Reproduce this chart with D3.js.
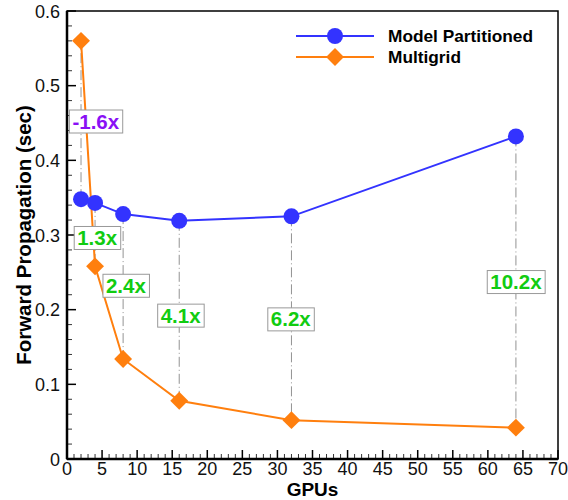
<!DOCTYPE html>
<html lang="en">
<head>
  <meta charset="UTF-8">
  <title>Forward Propagation vs GPUs</title>
  <script src='https://d3js.org/d3.v7.min.js'></script>
  <style>
    body { margin: 0; background: #fff; }
    text { font-family: "Liberation Sans", Arial, Helvetica, sans-serif; }
  </style>
</head>
<body>
</body>
<script>
  const width = 568, height = 500;
  const margin = {top: 11, right: 10, bottom: 41, left: 67};

  // data
  const gpus = [2, 4, 8, 16, 32, 64];
  const modelPartitioned = [0.348, 0.343, 0.328, 0.319, 0.325, 0.432];
  const multigrid = [0.560, 0.258, 0.134, 0.078, 0.052, 0.042];
  const speedupLabels = ['-1.6x', '1.3x', '2.4x', '4.1x', '6.2x', '10.2x'];
  const labelY = [0.452, 0.296, 0.232, 0.192, 0.187, 0.237];
  const labelX = [4.1, 4.3, 8.4, 16.2, 31.9, 64];
  const xTicks = d3.range(0, 71, 5);
  const yTicks = [0, 0.1, 0.2, 0.3, 0.4, 0.5, 0.6];

  const svg = d3.select('body').append('svg').attr('width', width).attr('height', height);

  const x = d3.scaleLinear().domain([0, 70]).range([margin.left, width - margin.right]);
  const y = d3.scaleLinear().domain([0, 0.6]).range([height - margin.bottom, margin.top]);

  const blue = '#3333ff', orange = '#ff7f0e';

  // frame
  svg.append('rect')
    .attr('x', x(0)).attr('y', y(0.6))
    .attr('width', x(70) - x(0)).attr('height', y(0) - y(0.6))
    .attr('fill', 'none').attr('stroke', '#000').attr('stroke-width', 1.5);

  // ticks (inward)
  const ticks = svg.append('g');
  d3.range(0, 71, 1).forEach(v => {
    const major = v % 5 === 0;
    ticks.append('line')
      .attr('x1', x(v)).attr('x2', x(v))
      .attr('y1', y(0)).attr('y2', y(0) - (major ? 9 : 5))
      .attr('stroke', '#000').attr('stroke-width', major ? 1.5 : 0.8);
  });
  d3.range(0, 31, 1).forEach(i => {
    const v = i * 0.02;
    const major = i % 5 === 0;
    ticks.append('line')
      .attr('x1', x(0)).attr('x2', x(0) + (major ? 9 : 5))
      .attr('y1', y(v)).attr('y2', y(v))
      .attr('stroke', '#000').attr('stroke-width', major ? 1.5 : 0.8);
  });

  svg.append('line').attr('x1', x(0)).attr('x2', x(70)).attr('y1', y(0)).attr('y2', y(0))
    .attr('stroke', '#000').attr('stroke-width', 2.5);
  svg.append('line').attr('x1', x(0)).attr('x2', x(0)).attr('y1', y(0)).attr('y2', y(0.6))
    .attr('stroke', '#000').attr('stroke-width', 2.5);

  // tick labels
  svg.append('g').selectAll('text').data(xTicks).join('text')
    .attr('x', d => x(d)).attr('y', y(0) + 15.5)
    .attr('text-anchor', 'middle').attr('font-size', 18).attr('fill', '#111')
    .text(d => d);
  svg.append('g').selectAll('text').data(yTicks).join('text')
    .attr('x', x(0) - 7).attr('y', d => y(d) + 6.5)
    .attr('text-anchor', 'end').attr('font-size', 18).attr('fill', '#111')
    .text(d => d === 0 ? '0' : d.toFixed(1));

  // axis titles
  svg.append('text')
    .attr('x', (x(0) + x(70)) / 2).attr('y', 495.8)
    .attr('text-anchor', 'middle').attr('font-size', 19).attr('font-weight', 'bold')
    .text('GPUs');
  svg.append('text')
    .attr('transform', `translate(31,${(y(0) + y(0.6)) / 2}) rotate(-90)`)
    .attr('text-anchor', 'middle').attr('font-size', 20.5).attr('font-weight', 'bold')
    .text('Forward Propagation (sec)');

  // dash-dot drop lines
  svg.append('g').selectAll('line').data(gpus).join('line')
    .attr('x1', d => x(d)).attr('x2', d => x(d))
    .attr('y1', (d, i) => y(modelPartitioned[i])).attr('y2', (d, i) => y(multigrid[i]))
    .attr('stroke', '#777').attr('stroke-width', 0.8)
    .attr('stroke-dasharray', '10,3,1,3');

  // series
  const line = d3.line().x(d => x(d[0])).y(d => y(d[1]));
  const mpPts = gpus.map((g, i) => [g, modelPartitioned[i]]);
  const mgPts = gpus.map((g, i) => [g, multigrid[i]]);

  svg.append('path').datum(mgPts).attr('d', line)
    .attr('fill', 'none').attr('stroke', orange).attr('stroke-width', 2);
  svg.append('path').datum(mpPts).attr('d', line)
    .attr('fill', 'none').attr('stroke', blue).attr('stroke-width', 2);

  const diamond = d3.symbol().type(d3.symbolSquare).size(160);
  svg.append('g').selectAll('path').data(mgPts).join('path')
    .attr('d', diamond)
    .attr('transform', d => `translate(${x(d[0])},${y(d[1])}) rotate(45)`)
    .attr('fill', orange);
  svg.append('g').selectAll('circle').data(mpPts).join('circle')
    .attr('cx', d => x(d[0])).attr('cy', d => y(d[1])).attr('r', 8)
    .attr('fill', blue);

  // speedup labels
  const lab = svg.append('g').selectAll('g').data(speedupLabels).join('g')
    .attr('transform', (d, i) => `translate(${x(labelX[i])},${y(labelY[i])})`);
  lab.append('text')
    .attr('text-anchor', 'middle').attr('y', 7)
    .attr('font-size', 20.5).attr('font-weight', 'bold')
    .attr('fill', d => d.startsWith('-') ? '#8a10f5' : '#11cc11')
    .text(d => d);
  lab.each(function () {
    const g = d3.select(this);
    const b = g.select('text').node().getBBox();
    g.insert('rect', 'text')
      .attr('x', b.x - 3).attr('y', -11.5)
      .attr('width', b.width + 6).attr('height', 23)
      .attr('fill', '#fff').attr('stroke', '#999').attr('stroke-width', 1);
  });

  // legend
  const legend = svg.append('g').attr('transform', 'translate(296,36)');
  const items = [
    {name: 'Model Partitioned', color: blue, type: 'circle'},
    {name: 'Multigrid', color: orange, type: 'diamond'}
  ];
  items.forEach((it, i) => {
    const g = legend.append('g').attr('transform', `translate(0,${i * 21})`);
    g.append('line').attr('x1', 0).attr('x2', 78).attr('stroke', it.color).attr('stroke-width', 2);
    if (it.type === 'circle') {
      g.append('circle').attr('cx', 39).attr('r', 8).attr('fill', it.color);
    } else {
      g.append('path').attr('d', diamond).attr('transform', 'translate(39,0) rotate(45)').attr('fill', it.color);
    }
    g.append('text').attr('x', 92).attr('y', 6)
      .attr('font-size', 17.3).attr('font-weight', 'bold').text(it.name);
  });
</script>
</html>
